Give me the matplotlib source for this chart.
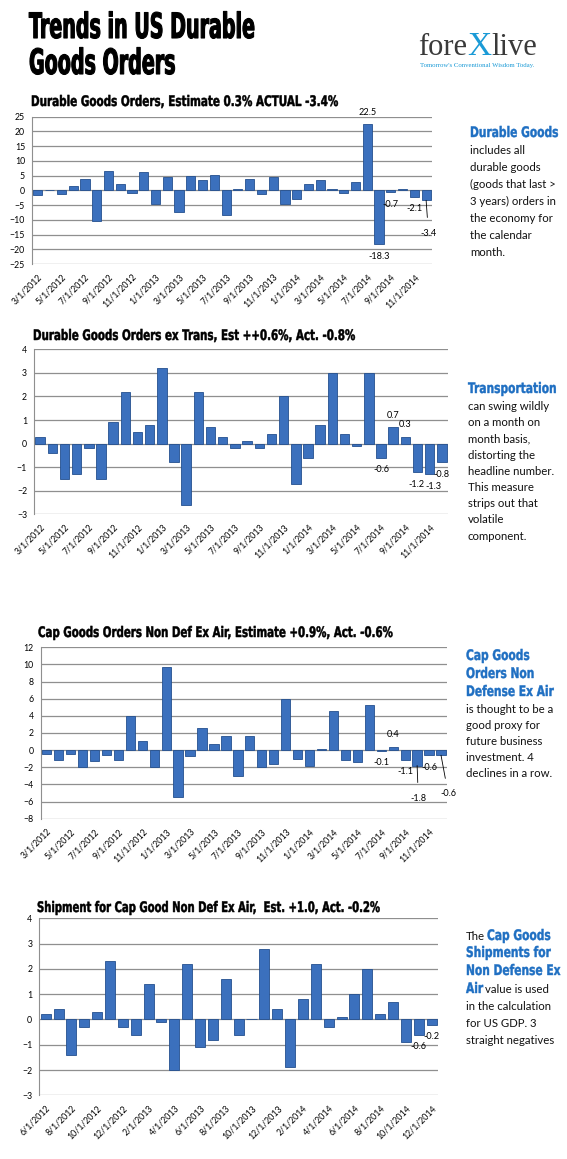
import numpy as np
import matplotlib
matplotlib.use("Agg")
import matplotlib.pyplot as plt
from matplotlib import patheffects
from matplotlib.transforms import Affine2D
from matplotlib.textpath import TextPath
from matplotlib.font_manager import FontProperties
from matplotlib.text import Annotation

W, H = 567, 1159

# ---------------- data ----------------
months_a = ['3/1/2012', '4/1/2012', '5/1/2012', '6/1/2012', '7/1/2012', '8/1/2012',
            '9/1/2012', '10/1/2012', '11/1/2012', '12/1/2012',
            '1/1/2013', '2/1/2013', '3/1/2013', '4/1/2013', '5/1/2013', '6/1/2013',
            '7/1/2013', '8/1/2013', '9/1/2013', '10/1/2013', '11/1/2013', '12/1/2013',
            '1/1/2014', '2/1/2014', '3/1/2014', '4/1/2014', '5/1/2014', '6/1/2014',
            '7/1/2014', '8/1/2014', '9/1/2014', '10/1/2014', '11/1/2014', '12/1/2014']
months_b = ['6/1/2012', '7/1/2012', '8/1/2012', '9/1/2012', '10/1/2012', '11/1/2012', '12/1/2012',
            '1/1/2013', '2/1/2013', '3/1/2013', '4/1/2013', '5/1/2013', '6/1/2013',
            '7/1/2013', '8/1/2013', '9/1/2013', '10/1/2013', '11/1/2013', '12/1/2013',
            '1/1/2014', '2/1/2014', '3/1/2014', '4/1/2014', '5/1/2014', '6/1/2014',
            '7/1/2014', '8/1/2014', '9/1/2014', '10/1/2014', '11/1/2014', '12/1/2014']

durable = [-1.5, 0.0, -1.3, 1.5, 4.0, -10.5, 6.6, 2.2, -0.8, 6.2, -4.5, 4.6,
           -7.2, 4.9, 3.6, 5.2, -8.2, 0.3, 3.9, -1.2, 4.6, -4.8, -2.8, 2.3,
           3.6, 0.6, -0.9, 2.7, 22.5, -18.3, -0.7, 0.3, -2.1, -3.4]
ex_trans = [0.3, -0.4, -1.5, -1.3, -0.2, -1.5, 0.9, 2.2, 0.5, 0.8, 3.2, -0.8,
            -2.6, 2.2, 0.7, 0.3, -0.2, 0.1, -0.2, 0.4, 2.0, -1.7, -0.6, 0.8,
            3.0, 0.4, -0.1, 3.0, -0.6, 0.7, 0.3, -1.2, -1.3, -0.8]
cap_orders = [-0.5, -1.1, -0.5, -2.0, -1.3, -0.6, -1.2, 4.0, 1.1, -2.0, 9.7, -5.5,
              -0.7, 2.6, 0.7, 1.6, -3.0, 1.6, -2.0, -1.6, 6.0, -1.0, -1.9, 0.1,
              4.6, -1.1, -1.4, 5.3, -0.1, 0.4, -1.1, -1.8, -0.6, -0.6]
shipments = [0.2, 0.4, -1.4, -0.3, 0.3, 2.3, -0.3, -0.6, 1.4, -0.1, -2.0, 2.2,
             -1.1, -0.8, 1.6, -0.6, 0.0, 2.8, 0.4, -1.9, 0.8, 2.2, -0.3, 0.1,
             1.0, 2.0, 0.2, 0.7, -0.9, -0.6, -0.2]

# bars with a data label: None = default spot, (x, y, leader) = moved label
labels_1 = {28: None, 29: None, 30: None, 32: None, 33: (33.2, -14.5, True)}
labels_2 = {28: None, 29: None, 30: None, 31: (30.95, -1.74, False),
            32: (32.3, -1.83, False), 33: None}
labels_3 = {28: None, 29: None, 30: None, 31: (31.1, -5.6, True), 32: None,
            33: (33.6, -5.1, True)}
labels_4 = {29: None, 30: None}

BAR = '#3b70bd'
EDGE = '#24508f'
GRID = '#8f8f8f'
BLUE = '#1f6fc2'
BODY_FONT = ['Lato', 'DejaVu Sans']

fig = plt.figure(figsize=(W / 100, H / 100), dpi=100)
fig.patch.set_facecolor('white')


class Stretch(patheffects.AbstractPathEffect):
    """draw text taller from its baseline (gives an Impact-like narrow look)"""
    def __init__(self, sy, lw=0.0):
        super().__init__()
        self.sy = sy
        self.lw = lw

    def draw_path(self, renderer, gc, tpath, affine, rgbFace=None):
        gc0 = renderer.new_gc()
        gc0.copy_properties(gc)
        if self.lw > 0:
            gc0.set_linewidth(self.lw)
            gc0.set_foreground(rgbFace)
        renderer.draw_path(gc0, tpath, Affine2D().scale(1.0, self.sy) + affine, rgbFace)
        gc0.restore()


HEAVY = FontProperties(family='DejaVu Sans', weight='bold')
CAP = 0.729  # cap height of DejaVu Sans Bold, in em


def fit(s, width_px, cap_px):
    # font size that gives the wanted width, and the stretch for the wanted cap height
    w1 = TextPath((0, 0), s, size=1, prop=HEAVY).get_extents().width
    size = width_px * 0.72 / w1
    return size, cap_px * 0.72 / (CAP * size)


def heavy(x, y, s, size, sy, color='black', lw=0.3):
    fig.text(x / W, 1 - y / H, s, fontproperties=HEAVY, fontsize=size, color=color,
             ha='left', va='baseline', path_effects=[Stretch(sy, lw)])


def body(x, y, s, size=8.2):
    fig.text(x / W, 1 - y / H, s, family=BODY_FONT, fontsize=size, color='#111111',
             ha='left', va='baseline')


def panel(box, vals, cats, ylim, ystep, labels):
    l, t, r, b = box
    ax = fig.add_axes([l / W, 1 - b / H, (r - l) / W, (b - t) / H])
    x = np.arange(len(vals))
    ax.bar(x, vals, width=0.78, color=BAR, edgecolor=EDGE, linewidth=0.6, zorder=3)
    ax.set_xlim(-0.5, len(vals) - 0.5)
    ax.set_ylim(*ylim)
    ax.set_yticks(np.arange(ylim[0], ylim[1] + ystep / 2, ystep))
    ax.yaxis.grid(True, color=GRID, linewidth=0.9)
    ax.set_axisbelow(True)
    for side in ['top', 'right', 'bottom']:
        ax.spines[side].set_visible(False)
    ax.spines['left'].set_color(GRID)
    ax.set_xticks(x[::2])
    ax.set_xticklabels(cats[::2], rotation=45, ha='right', rotation_mode='anchor')
    ax.tick_params(axis='both', length=0, labelsize=6.3)
    ax.tick_params(axis='x', pad=6)
    ax.tick_params(axis='y', pad=5)
    for lab in ax.get_xticklabels() + ax.get_yticklabels():
        lab.set_family(BODY_FONT)
    for i, spot in labels.items():
        v = vals[i]
        txt = f'{v:.1f}'
        if spot is None:
            off = 8.6 if v >= 0 else -8.6
            ax.annotate(txt, (i, v), xytext=(0, off), textcoords='offset points',
                        ha='center', va='center', fontsize=6.6, family=BODY_FONT)
        else:
            sx_, sy_, leader = spot
            arrow = None
            if leader:
                arrow = dict(arrowstyle='-', color='black', lw=0.6, shrinkA=6, shrinkB=0)
            ax.annotate(txt, (i, v), xytext=(sx_, sy_), textcoords='data',
                        ha='center', va='center', fontsize=6.6, family=BODY_FONT,
                        arrowprops=arrow)
    return ax


# ---------------- header ----------------
size_t, sy_t = fit('Trends in US Durable', 225, 25.5)
heavy(29, 38, 'Trends in US Durable', size_t, sy_t, lw=0.8)
heavy(29, 74, 'Goods Orders', size_t, sy_t, lw=0.8)

t1 = fig.text(418 / W, 1 - 55 / H, 'fore', family=['Liberation Serif', 'DejaVu Serif'],
              fontsize=22, color='#3a3a3a', ha='left', va='baseline')
t2 = Annotation('X', xy=(1, 0), xycoords=t1, xytext=(0, 0), textcoords='offset points',
                family=['Liberation Serif', 'DejaVu Serif'], fontsize=24, color='#1a9ad6',
                ha='left', va='bottom')
fig.add_artist(t2)
t3 = Annotation('live', xy=(1, 0), xycoords=t2, xytext=(0, 0), textcoords='offset points',
                family=['Liberation Serif', 'DejaVu Serif'], fontsize=22, color='#3a3a3a',
                ha='left', va='bottom')
fig.add_artist(t3)
fig.text(420 / W, 1 - 67 / H, "Tomorrow's Conventional Wisdom Today.",
         family=['Liberation Serif', 'DejaVu Serif'], fontsize=4.9, color='#1a9ad6',
         ha='left', va='baseline')

# ---------------- charts ----------------
panel((32, 116.7, 432, 264), durable, months_a, (-25, 25), 5, labels_1)
panel((34, 349.3, 448, 514.3), ex_trans, months_a, (-3, 4), 1, labels_2)
panel((40.7, 647.3, 447, 818.7), cap_orders, months_a, (-8, 12), 2, labels_3)
panel((39.3, 918.3, 438, 1095.3), shipments, months_b, (-3, 4), 1, labels_4)

titles = [(31, 106, 'Durable Goods Orders, Estimate 0.3% ACTUAL -3.4%', 306),
          (33, 340, 'Durable Goods Orders ex Trans, Est ++0.6%, Act. -0.8%', 321),
          (38, 637, 'Cap Goods Orders Non Def Ex Air, Estimate +0.9%, Act. -0.6%', 354),
          (37, 912, 'Shipment for Cap Good Non Def Ex Air,  Est. +1.0, Act. -0.2%', 342)]
for x0, y0, s, w in titles:
    size_c, sy_c = fit(s, w, 10.6)
    heavy(x0, y0, s, size_c, sy_c, lw=0.35)

# ---------------- side notes ----------------
size_s, sy_s = fit('Durable Goods', 87, 10.6)
heavy(470, 137, 'Durable Goods', size_s, sy_s, color=BLUE)
for k, s in enumerate(['includes all', 'durable goods', '(goods that last >',
                       '3 years) orders in', 'the economy for', 'the calendar', 'month.']):
    body(470, 154 + 17 * k, s)

heavy(468, 393, 'Transportation', size_s, sy_s, color=BLUE)
for k, s in enumerate(['can swing wildly', 'on a month on', 'month basis,',
                       'distorting the', 'headline number.', 'This measure',
                       'strips out that', 'volatile', 'component.']):
    body(468, 410 + 16.2 * k, s)

for k, s in enumerate(['Cap Goods', 'Orders Non', 'Defense Ex Air']):
    heavy(466, 660 + 18 * k, s, size_s, sy_s, color=BLUE)
for k, s in enumerate(['is thought to be a', 'good proxy for', 'future business',
                       'investment. 4', 'declines in a row.']):
    body(466, 713 + 16 * k, s)

body(466, 940, 'The')
heavy(487, 940, 'Cap Goods', size_s, sy_s, color=BLUE)
heavy(466, 957, 'Shipments for', size_s, sy_s, color=BLUE)
heavy(466, 975, 'Non Defense Ex', size_s, sy_s, color=BLUE)
heavy(466, 993, 'Air', size_s, sy_s, color=BLUE)
body(485, 993, 'value is used')
for k, s in enumerate(['in the calculation', 'for US GDP. 3', 'straight negatives']):
    body(466, 1010 + 17 * k, s)

fig.savefig('out.png', dpi=100)
